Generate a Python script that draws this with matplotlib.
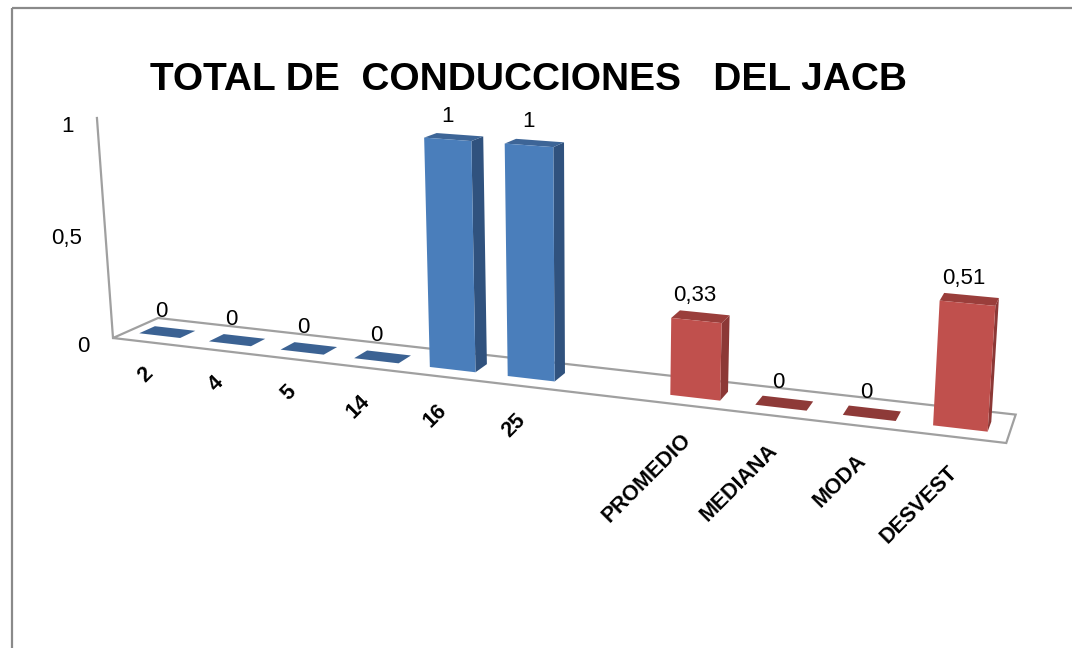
import numpy as np
import matplotlib
matplotlib.use("Agg")
import matplotlib.pyplot as plt
from matplotlib.patches import Polygon, Rectangle

# ---------------- data ----------------
count_categories = ['2', '4', '5', '14', '16', '25']
count_values = [0, 0, 0, 0, 1, 1]
stat_categories = ['PROMEDIO', 'MEDIANA', 'MODA', 'DESVEST']
stat_values = [0.33, 0, 0, 0.51]
value_ticks = [0, 0.5, 1]
value_tick_labels = ['0', '0,5', '1']
title = 'TOTAL DE  CONDUCCIONES   DEL JACB'

# category slots (one empty slot between the two series)
slots = count_categories + [''] + stat_categories
n_slots = len(slots)

# ---------------- perspective projection (scene -> pixels) ----------------
O = np.array([113.0, 338.0, 1.0])
VX = np.array([-5000.0, -263.0, 1.0]); LX = -0.01352
VY = np.array([1202.0, -146.0, 1.0]); LY = 0.0431
VZ = np.array([592.0, 6900.0, 1.0]); LZ = -0.03244


def proj(X, Y, Z):
    h = O + LX * X * VX + LY * Y * VY + LZ * Z * VZ
    return h[0] / h[2], h[1] / h[2]


W, H = 1072, 648
fig = plt.figure(figsize=(W / 100, H / 100), dpi=100)
ax = fig.add_axes([0, 0, 1, 1])
ax.set_xlim(0, W)
ax.set_ylim(H, 0)
ax.axis('off')

FONT = ['Liberation Sans', 'DejaVu Sans']
grid_col = '#A0A0A0'

# outer chart border
ax.add_patch(Rectangle((12, 8), W + 50, H + 50, fill=False,
                       edgecolor='#8A8A8A', lw=1.6, zorder=1))

# floor
floor = [proj(0, 0, 0), proj(n_slots, 0, 0), proj(n_slots, 1, 0), proj(0, 1, 0)]
ax.add_patch(Polygon(floor, closed=True, facecolor='white',
                     edgecolor=grid_col, lw=1.6, zorder=2))

# value axis
p0 = proj(0, 0, 0)
p1 = proj(0, 0, max(value_ticks))
ax.plot([p0[0], p1[0]], [p0[1], p1[1]], color=grid_col, lw=1.6, zorder=2)
for v, t in zip(value_ticks, value_tick_labels):
    px, py = proj(0, 0, v)
    ax.text(px - 23, py + 9, t, ha='right', va='center', fontsize=16,
            family=FONT, color='black')

# bars
blue = dict(front='#4A7EBB', side='#30527E', top='#3D6597', flat='#3B6293')
red = dict(front='#C0504D', side='#8C3836', top='#9A3E3B', flat='#8E3A38')

bars = []
for i, v in enumerate(count_values):
    bars.append((i, v, blue))
off = len(count_categories) + 1
for j, v in enumerate(stat_values):
    bars.append((off + j, v, red))

bx0, bx1 = 0.18, 0.77
by0, by1 = 0.30, 0.65
z = 3
for i, v, col in bars:
    x0, x1 = i + bx0, i + bx1
    if v > 0:
        side = [proj(x1, by0, 0), proj(x1, by1, 0), proj(x1, by1, v), proj(x1, by0, v)]
        top = [proj(x0, by0, v), proj(x1, by0, v), proj(x1, by1, v), proj(x0, by1, v)]
        front = [proj(x0, by0, 0), proj(x1, by0, 0), proj(x1, by0, v), proj(x0, by0, v)]
        ax.add_patch(Polygon(side, closed=True, facecolor=col['side'], edgecolor='none', zorder=z))
        ax.add_patch(Polygon(top, closed=True, facecolor=col['top'], edgecolor='none', zorder=z))
        ax.add_patch(Polygon(front, closed=True, facecolor=col['front'], edgecolor='none', zorder=z + 0.5))
    else:
        flat = [proj(x0, by0, 0), proj(x1, by0, 0), proj(x1, by1, 0), proj(x0, by1, 0)]
        ax.add_patch(Polygon(flat, closed=True, facecolor=col['flat'], edgecolor='none', zorder=z))
    z += 1
    # data label
    lx, ly = proj((x0 + x1) / 2, (by0 + by1) / 2, v)
    lab = f"{v:g}".replace('.', ',')
    ax.text(lx - 6, ly - 21, lab, ha='center', va='center', fontsize=16,
            family=FONT, color='black', zorder=50)

# category labels
for i, name in enumerate(slots):
    if not name:
        continue
    px, py = proj(i + 0.5, 0, 0)
    ax.text(px + 2 - 0.6 * i, py + 29 + 0.3 * i, name, rotation=45,
            rotation_mode='anchor', ha='right', va='center', fontsize=15.5,
            fontweight='bold', family=FONT, color='black', zorder=50)

# title
ax.text(528, 80, title, ha='center', va='center', fontsize=28,
        fontweight='bold', family=FONT, color='black')

fig.savefig('out.png', dpi=100)
